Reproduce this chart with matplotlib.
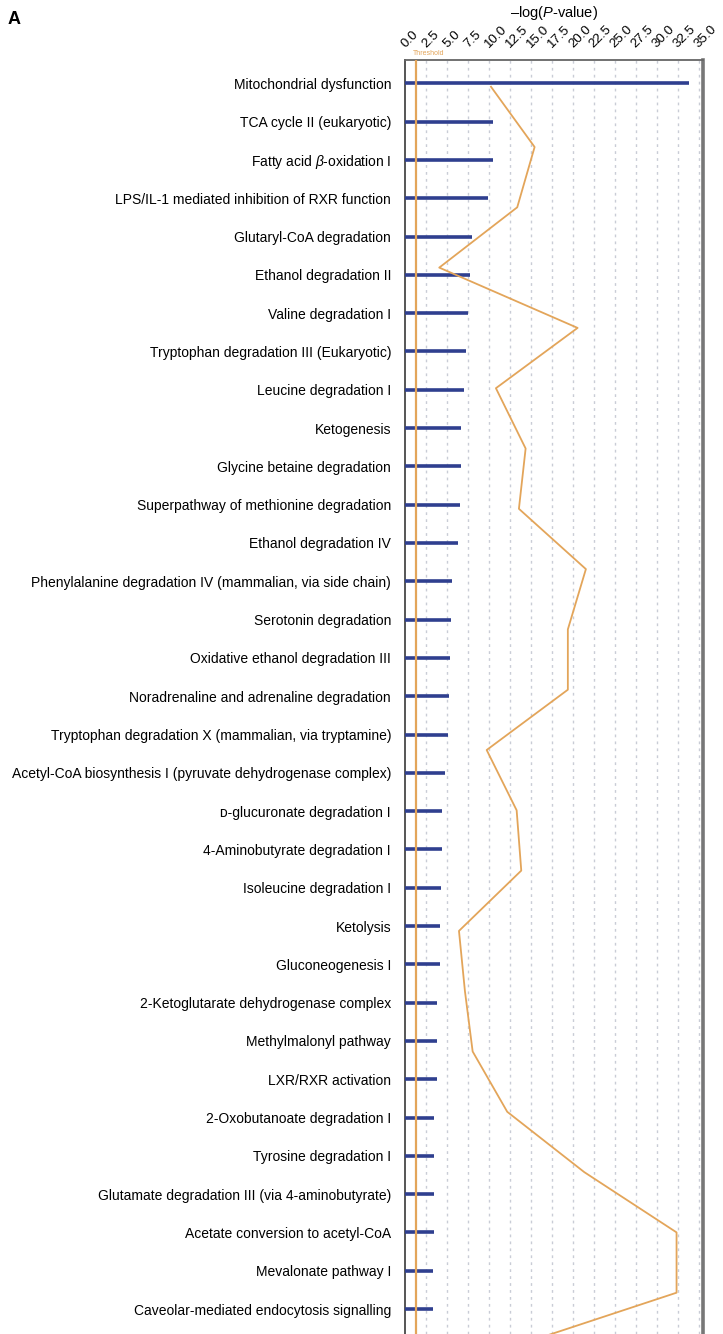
import numpy as np
import matplotlib
matplotlib.use("Agg")
import matplotlib.pyplot as plt
import matplotlib.transforms as mtransforms

plt.rcParams["font.family"] = ["Liberation Sans", "DejaVu Sans"]
plt.rcParams["mathtext.fontset"] = "custom"
plt.rcParams["mathtext.rm"] = "Liberation Sans"
plt.rcParams["mathtext.it"] = "Liberation Sans:italic"

# pathways, top to bottom
pathways = [
    "Mitochondrial dysfunction",
    "TCA cycle II (eukaryotic)",
    r"Fatty acid $\it{\beta}$-oxidation I",
    "LPS/IL-1 mediated inhibition of RXR function",
    "Glutaryl-CoA degradation",
    "Ethanol degradation II",
    "Valine degradation I",
    "Tryptophan degradation III (Eukaryotic)",
    "Leucine degradation I",
    "Ketogenesis",
    "Glycine betaine degradation",
    "Superpathway of methionine degradation",
    "Ethanol degradation IV",
    "Phenylalanine degradation IV (mammalian, via side chain)",
    "Serotonin degradation",
    "Oxidative ethanol degradation III",
    "Noradrenaline and adrenaline degradation",
    "Tryptophan degradation X (mammalian, via tryptamine)",
    "Acetyl-CoA biosynthesis I (pyruvate dehydrogenase complex)",
    "ᴅ-glucuronate degradation I",
    "4-Aminobutyrate degradation I",
    "Isoleucine degradation I",
    "Ketolysis",
    "Gluconeogenesis I",
    "2-Ketoglutarate dehydrogenase complex",
    "Methylmalonyl pathway",
    "LXR/RXR activation",
    "2-Oxobutanoate degradation I",
    "Tyrosine degradation I",
    "Glutamate degradation III (via 4-aminobutyrate)",
    "Acetate conversion to acetyl-CoA",
    "Mevalonate pathway I",
    "Caveolar-mediated endocytosis signalling",
]

neg_log_p = [33.85, 10.5, 10.5, 9.84, 7.98, 7.74, 7.46, 7.22, 7.06, 6.71, 6.71,
             6.55, 6.27, 5.56, 5.44, 5.36, 5.24, 5.16, 4.76, 4.44, 4.44, 4.25,
             4.13, 4.13, 3.85, 3.85, 3.85, 3.45, 3.45, 3.45, 3.45, 3.33, 3.33]

# orange trace (own spacing, continues past the crop)
ratio_line = [10.24, 15.44, 13.37, 4.08, 20.56, 10.83, 14.37, 13.57, 21.55,
              19.40, 19.40, 9.73, 13.30, 13.85, 6.43, 7.14, 8.06, 12.18,
              21.35, 32.35, 32.35, 10.6]

threshold = 1.3
xticks = np.arange(0, 35.1, 2.5)

blue = "#2f3f8f"
orange = "#e3a55a"

fig = plt.figure(figsize=(7.23, 13.34), dpi=100)
ax = fig.add_axes([405 / 723, 0, 298 / 723, (1334 - 60) / 1334])

rows = np.arange(len(pathways))
ax.hlines(rows, 0, neg_log_p, color=blue, lw=2.6, zorder=3)
ax.axvline(threshold, color=orange, lw=1.6, zorder=4)

ax.set_xlim(0, 35.5)
ax.set_ylim(32.65, -0.608)
ax.set_yticks(rows)
ax.set_yticklabels(pathways, fontsize=10)
ax.tick_params(axis="y", length=0, pad=10)

ax.xaxis.tick_top()
ax.set_xticks(xticks)
ax.set_xticklabels([f"{v:.1f}" for v in xticks], fontsize=9.6, rotation=45,
                   ha="left", va="baseline", rotation_mode="anchor")
ax.tick_params(axis="x", length=0, pad=9)

for v in xticks[1:]:
    ax.axvline(v, color="#c9ccd6", lw=1.0, ls=(0, (2, 3)), zorder=1)

ax.spines["bottom"].set_visible(False)
ax.spines["left"].set_color("#555555")
ax.spines["left"].set_linewidth(1.4)
ax.spines["top"].set_color("#666666")
ax.spines["top"].set_linewidth(1.3)
ax.spines["right"].set_color("#777777")
ax.spines["right"].set_linewidth(2.6)

ax2 = ax.twinx()
ax2.plot(ratio_line, np.arange(len(ratio_line)), color=orange, lw=1.3, zorder=5)
ax2.set_ylim(20.685, -0.443)
ax2.set_yticks([])
for s in ax2.spines.values():
    s.set_visible(False)

trans = mtransforms.blended_transform_factory(ax.transData, ax.transAxes)
ax.text(threshold - 0.3, 1.002, "Threshold", transform=trans, fontsize=5,
        color=orange, ha="left", va="bottom", clip_on=False)

fig.text(554 / 723, 1 - 13 / 1334, r"–log($\it{P}$-value)", fontsize=10.5,
         ha="center", va="center")
fig.text(8 / 723, 1 - 20 / 1334, "A", fontsize=13, fontweight="bold",
         ha="left", va="center")

fig.savefig("out.png", dpi=100)
